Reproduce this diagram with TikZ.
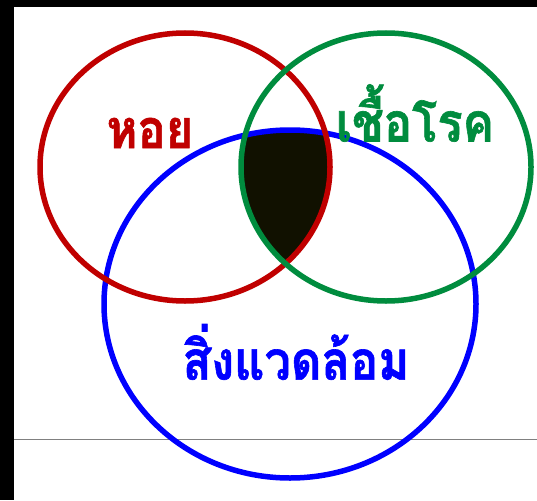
\documentclass[tikz,border=0pt]{standalone}
\usepackage{fontspec}
\newfontfamily\thaifont[Script=Thai,FakeBold=1.2]{Loma}
\definecolor{cred}{RGB}{192,0,0}
\definecolor{cgreen}{RGB}{0,140,62}
\definecolor{cblue}{RGB}{0,0,255}
\definecolor{cdark}{RGB}{17,17,0}
\begin{document}
\begin{tikzpicture}[x=1pt,y=-1pt,
  ring/.style={line width=5.5pt},
  lbl/.style={font=\thaifont\bfseries\fontsize{47}{50}\selectfont, inner sep=0pt, yscale=1.15, transform shape}]
\useasboundingbox (0,0) rectangle (537,500);
\fill[white] (0,0) rectangle (537,500);
\fill[black] (0,0) rectangle (14,500);
\fill[black] (0,0) rectangle (537,7);
\draw[gray, line width=1pt] (14,439) -- (537,439);
% intersection
\begin{scope}
  \clip (185,167) ellipse [x radius=145, y radius=134];
  \clip (386,167) ellipse [x radius=145, y radius=134];
  \fill[cdark] (290,304) ellipse [x radius=186, y radius=174];
\end{scope}
\draw[ring, cblue] (290,304) ellipse [x radius=186, y radius=174];
\draw[ring, cred] (185,167) ellipse [x radius=145, y radius=134];
\draw[ring, cgreen] (386,167) ellipse [x radius=145, y radius=134];
\node[lbl, text=cred] (hoi) at (150,133) {หอย};
\node[lbl, text=cgreen] (chuerok) at (415,113) {เชื้อโรค};
\node[lbl, text=cblue] (env) at (296,352) {สิ่งแวดล้อม};
\end{tikzpicture}
\end{document}
